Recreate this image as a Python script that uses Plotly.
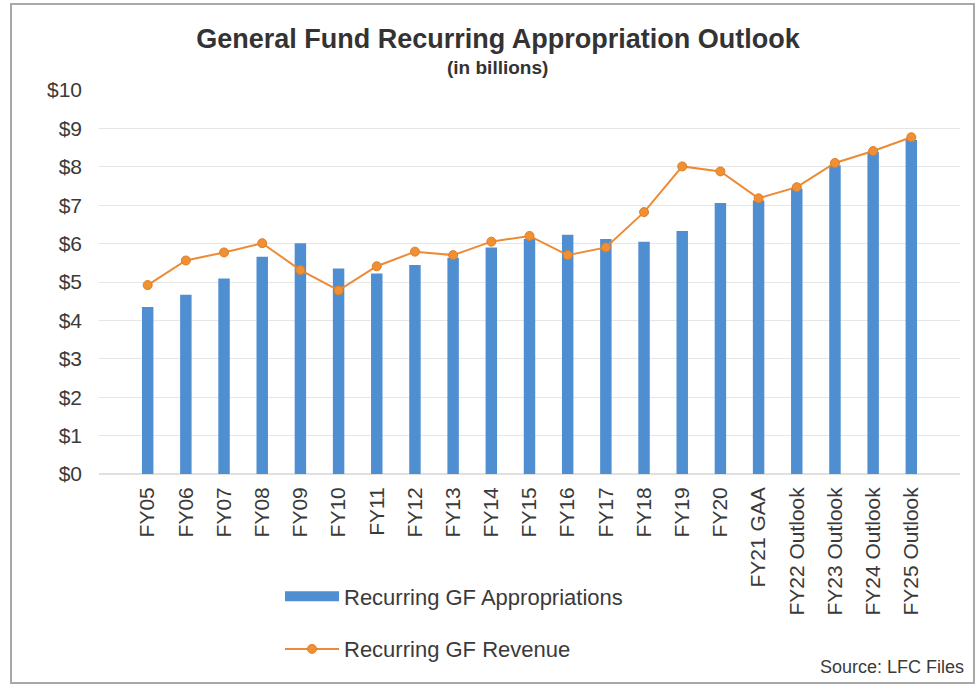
import plotly.graph_objects as go

# Fiscal years on the category axis
years = ["FY05", "FY06", "FY07", "FY08", "FY09", "FY10", "FY11", "FY12", "FY13",
         "FY14", "FY15", "FY16", "FY17", "FY18", "FY19", "FY20", "FY21 GAA",
         "FY22 Outlook", "FY23 Outlook", "FY24 Outlook", "FY25 Outlook"]

# Recurring general fund appropriations, $ billions
appropriations = [4.35, 4.67, 5.09, 5.66, 6.01, 5.35, 5.22, 5.44, 5.63, 5.90, 6.12,
                  6.23, 6.12, 6.05, 6.33, 7.06, 7.12, 7.43, 8.04, 8.39, 8.70]

# Recurring general fund revenue, $ billions
revenue = [4.92, 5.56, 5.77, 6.01, 5.31, 4.78, 5.41, 5.79, 5.70, 6.05, 6.20,
           5.70, 5.90, 6.82, 8.01, 7.88, 7.18, 7.47, 8.10, 8.41, 8.77]

y_ticks = list(range(0, 11))
y_tick_text = [f"${v}" for v in y_ticks]

FONT = "Liberation Sans, Arial, sans-serif"
TEXT = "#3a3a3a"
BLUE = "#4f8fd1"
ORANGE = "#ed8a35"
W, H = 976, 685
L, R, T, B = 99, 16, 90, 211
PW, PH = W - L - R, H - T - B


def px_x(x):
    """Page x pixel -> paper coordinate."""
    return (x - L) / PW


def px_y(y):
    """Page y pixel (from top) -> paper coordinate."""
    return (H - B - y) / PH


fig = go.Figure()
fig.add_trace(go.Bar(
    x=years, y=appropriations, name="Recurring GF Appropriations",
    marker=dict(color=BLUE, line=dict(width=0)),
    width=0.3, showlegend=False,
))
# wide flat swatch for the appropriations legend entry
fig.add_trace(go.Scatter(
    x=[None], y=[None], name="Recurring GF Appropriations", mode="lines",
    line=dict(color=BLUE, width=10), legendgroup="a", hoverinfo="skip",
))
fig.add_trace(go.Scatter(
    x=years, y=revenue, name="Recurring GF Revenue", mode="lines+markers",
    line=dict(color=ORANGE, width=2),
    marker=dict(color="#ee9033", size=9, line=dict(color="#e07f25", width=1)),
    legendgroup="b",
))

fig.update_layout(
    width=W, height=H,
    margin=dict(l=L, r=R, t=T, b=B, autoexpand=False),
    paper_bgcolor="white", plot_bgcolor="white",
    font=dict(family=FONT, color=TEXT, size=20),
    title=dict(text="<b>General Fund Recurring Appropriation Outlook</b>",
               x=498 / W, xanchor="center", xref="container",
               y=1 - 39 / H, yanchor="middle", yref="container",
               font=dict(family=FONT, size=27, color="#333333")),
    showlegend=True,
    legend=dict(orientation="v", x=px_x(280), xanchor="left",
                y=px_y(623), yanchor="middle",
                font=dict(family=FONT, size=22, color=TEXT),
                tracegroupgap=21, bgcolor="rgba(0,0,0,0)", itemwidth=54),
    xaxis=dict(tickangle=-90, showgrid=False, showline=False, ticks="",
               ticklabelstandoff=8,
               tickfont=dict(family=FONT, size=21, color=TEXT)),
    yaxis=dict(range=[0, 10], tickvals=y_ticks, ticktext=y_tick_text,
               showgrid=True, gridcolor="#e6e6e6", gridwidth=1,
               zeroline=True, zerolinecolor="#e0e0e0", showline=False,
               ticks="", ticklabelstandoff=16,
               tickfont=dict(family=FONT, size=21, color=TEXT)),
    annotations=[
        dict(text="<b>(in billions)</b>", x=px_x(497), y=px_y(68),
             xref="paper", yref="paper", xanchor="center", yanchor="middle",
             showarrow=False, font=dict(family=FONT, size=19, color="#333333")),
        dict(text="Source: LFC Files", x=px_x(966), y=px_y(667),
             xref="paper", yref="paper", xanchor="right", yanchor="middle",
             showarrow=False, font=dict(family=FONT, size=18, color=TEXT)),
    ],
    shapes=[
        dict(type="rect", xref="paper", yref="paper",
             x0=px_x(11), x1=px_x(974), y0=px_y(683), y1=px_y(4),
             line=dict(color="#a8a8a8", width=2), fillcolor="rgba(0,0,0,0)",
             layer="below"),
    ],
)

fig.write_html("out.html")
